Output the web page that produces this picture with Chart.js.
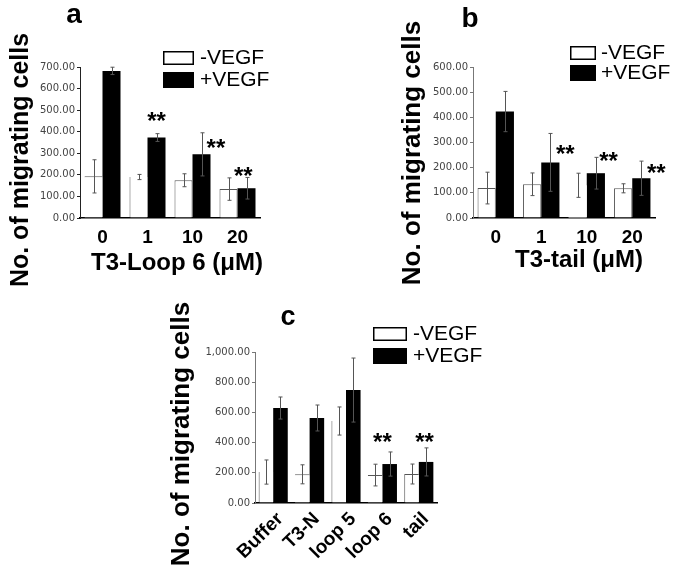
<!DOCTYPE html>
<html>
<head>
<meta charset="utf-8">
<script src="https://cdn.jsdelivr.net/npm/chart.js@4.4.1/dist/chart.umd.min.js"></script>
<style>
  body { margin: 0; background: #fff; }
  #wrap { position: relative; width: 683px; height: 568px; overflow: hidden; }
  canvas { position: absolute; }
</style>
</head>
<body>
<div id="wrap">
  <canvas id="chartA" width="340" height="290" style="left:0;top:0"></canvas>
  <canvas id="chartB" width="343" height="290" style="left:340px;top:0"></canvas>
  <canvas id="chartC" width="340" height="278" style="left:150px;top:290px"></canvas>
</div>
<script>
// panel a: T3-Loop 6
const catsA = ["0", "1", "10", "20"];
const minusA = [193, 190, 175, 134];
const minusErrA = [77, 12, 30, 52];
const plusA = [682, 373, 295, 138];
const plusErrA = [17, 18, 100, 50];
const starCatsA = [1.2, 2.52, 3.13];
const starLevelsA = [477, 352, 222];

// panel b: T3-tail
const catsB = ["0", "1", "10", "20"];
const minusB = [119, 134, 130, 118];
const minusErrB = [63, 45, 48, 18];
const plusB = [423, 221, 178, 158];
const plusErrB = [80, 115, 63, 68];
const starCatsB = [1.53, 2.48, 3.53];
const starLevelsB = [278, 250, 202];

// panel c: peptides
const catsC = ["Buffer", "T3-N", "loop 5", "loop 6", "tail"];
const minusC = [205, 190, 543, 185, 192];
const minusErrC = [80, 63, 93, 72, 66];
const plusC = [629, 563, 748, 258, 272];
const plusErrC = [73, 86, 212, 80, 93];
const starCatsC = [3.0, 4.16];
const starLevelsC = [444, 444];

const FONT = "'Liberation Sans', Arial, sans-serif";

// which outline edges of the white bars survived in the scan
const edge = (s) => ({
  left: s.includes("l") ? 1 : 0,
  top: s.includes("t") ? 1 : 0,
  right: s.includes("r") ? 1 : 0,
  bottom: 0,
});

const fmt = (v) =>
  v.toLocaleString("en-US", { minimumFractionDigits: 2, maximumFractionDigits: 2 });

const panels = [
  {
    id: "chartA", left: 0, top: 0, width: 340, height: 290,
    area: { left: 80, right: 260, top: 67, bottom: 218 },
    cats: catsA, minus: minusA, minusErr: minusErrA, plus: plusA, plusErr: plusErrA,
    starCats: starCatsA, starLevels: starLevelsA,
    yMax: 700, yStep: 100, yAxisColor: "#222",
    edges: [edge("t"), edge("l"), edge("ltr"), edge("ltr")],
    letter: { text: "a", x: 74, y: 23, size: 28 },
    yTitle: { x: 21, y: 160, size: 25 },
    xTitle: { text: "T3-Loop 6 (\u03bcM)", x: 177, y: 263, size: 24 },
    legend: { x: 163, y1: 51, y2: 72, w: 31, h: 14, textX: 200 },
    rotation: 0, tickPad: 8, labelOffset: 0,
  },
  {
    id: "chartB", left: 340, top: 0, width: 343, height: 290,
    area: { left: 473, right: 655, top: 67, bottom: 218 },
    cats: catsB, minus: minusB, minusErr: minusErrB, plus: plusB, plusErr: plusErrB,
    starCats: starCatsB, starLevels: starLevelsB,
    yMax: 600, yStep: 100, yAxisColor: "#777",
    edges: [edge("ltr"), edge("ltr"), edge(""), edge("ltr")],
    letter: { text: "b", x: 470, y: 27, size: 28 },
    yTitle: { x: 413, y: 153, size: 26 },
    xTitle: { text: "T3-tail (\u03bcM)", x: 579, y: 260, size: 24 },
    legend: { x: 570, y1: 46, y2: 65, w: 26, h: 14, textX: 601 },
    rotation: 0, tickPad: 8, labelOffset: 0,
  },
  {
    id: "chartC", left: 150, top: 290, width: 340, height: 278,
    area: { left: 255, right: 437, top: 352, bottom: 503 },
    cats: catsC, minus: minusC, minusErr: minusErrC, plus: plusC, plusErr: plusErrC,
    starCats: starCatsC, starLevels: starLevelsC,
    yMax: 1000, yStep: 200, yAxisColor: "#777",
    edges: [edge("l"), edge("t"), edge("l"), edge("t"), edge("lt")],
    letter: { text: "c", x: 288, y: 325, size: 27 },
    yTitle: { x: 182, y: 434, size: 26 },
    xTitle: null,
    legend: { x: 373, y1: 327, y2: 348, w: 34, h: 14, textX: 413 },
    rotation: 45, tickPad: 5, labelOffset: 7,
  },
];

function makeExtras(p) {
  return {
    id: "extras",
    afterDatasetsDraw(chart) {
      const ctx = chart.ctx;
      const ys = chart.scales.y;
      ctx.save();
      ctx.strokeStyle = "#555";
      ctx.lineWidth = 1;
      chart.data.datasets.forEach((ds, i) => {
        chart.getDatasetMeta(i).data.forEach((bar, j) => {
          const v = ds.data[j];
          const e = ds.errors[j];
          const x = Math.round(bar.x) + 0.5;
          const y1 = ys.getPixelForValue(v + e);
          const y2 = ys.getPixelForValue(Math.max(v - e, 0));
          ctx.beginPath();
          ctx.moveTo(x, y1);
          ctx.lineTo(x, y2);
          ctx.moveTo(x - 2, y1);
          ctx.lineTo(x + 2, y1);
          ctx.moveTo(x - 2, y2);
          ctx.lineTo(x + 2, y2);
          ctx.stroke();
        });
      });
      ctx.restore();
    },
    afterDraw(chart) {
      const ctx = chart.ctx;
      const xs = chart.scales.x;
      const ys = chart.scales.y;
      const ox = p.left, oy = p.top;
      ctx.save();
      ctx.fillStyle = "#000";

      // significance stars
      ctx.font = "bold 24px " + FONT;
      ctx.textAlign = "center";
      ctx.textBaseline = "alphabetic";
      p.starCats.forEach((c, k) => {
        const x = xs.getPixelForValue(c);
        const y = ys.getPixelForValue(p.starLevels[k]);
        ctx.fillText("**", x, y + 14);
      });

      // panel letter
      ctx.font = "bold " + p.letter.size + "px " + FONT;
      ctx.fillText(p.letter.text, p.letter.x - ox, p.letter.y - oy);

      // axis titles
      ctx.textBaseline = "middle";
      ctx.save();
      ctx.translate(p.yTitle.x - ox, p.yTitle.y - oy);
      ctx.rotate(-Math.PI / 2);
      ctx.font = "bold " + p.yTitle.size + "px " + FONT;
      ctx.fillText("No. of migrating cells", 0, 0);
      ctx.restore();
      if (p.xTitle) {
        ctx.font = "bold " + p.xTitle.size + "px " + FONT;
        ctx.fillText(p.xTitle.text, p.xTitle.x - ox, p.xTitle.y - oy);
      }

      // legend
      const lg = p.legend;
      ctx.lineWidth = 1.5;
      ctx.strokeStyle = "#000";
      ctx.fillStyle = "#fff";
      ctx.fillRect(lg.x - ox, lg.y1 - oy, lg.w, lg.h);
      ctx.strokeRect(lg.x - ox + 0.75, lg.y1 - oy + 0.75, lg.w - 1.5, lg.h - 1.5);
      ctx.fillStyle = "#000";
      ctx.fillRect(lg.x - ox, lg.y2 - oy, lg.w, lg.h + 2);
      ctx.font = "21px " + FONT;
      ctx.textAlign = "left";
      chart.data.datasets.forEach((ds, i) => {
        const yy = (i === 0 ? lg.y1 + lg.h / 2 : lg.y2 + lg.h / 2 + 1) - oy;
        ctx.fillText(ds.label, lg.textX - ox, yy);
      });
      ctx.restore();
    },
  };
}

panels.forEach((p) => {
  const ctx = document.getElementById(p.id).getContext("2d");
  new Chart(ctx, {
    type: "bar",
    data: {
      labels: p.cats,
      datasets: [
        {
          label: "-VEGF",
          data: p.minus,
          errors: p.minusErr,
          backgroundColor: "#fff",
          borderColor: "#555",
          borderWidth: (c) => p.edges[c.dataIndex],
        },
        {
          label: "+VEGF",
          data: p.plus,
          errors: p.plusErr,
          backgroundColor: "#000",
          borderWidth: 0,
        },
      ],
    },
    options: {
      responsive: false,
      animation: false,
      devicePixelRatio: 1,
      barPercentage: 1,
      categoryPercentage: 0.8,
      layout: {
        padding: {
          left: 0,
          bottom: 0,
          top: p.area.top - p.top,
          right: p.left + p.width - p.area.right,
        },
      },
      plugins: { legend: { display: false }, tooltip: { enabled: false } },
      scales: {
        x: {
          afterFit: (s) => { s.height = p.top + p.height - p.area.bottom; },
          grid: { display: false, drawTicks: false },
          border: { color: "#000", width: 1.5 },
          ticks: {
            autoSkip: false,
            color: "#000",
            padding: p.tickPad,
            labelOffset: p.labelOffset,
            minRotation: p.rotation,
            maxRotation: p.rotation,
            font: { family: FONT, size: 19, weight: "bold" },
          },
        },
        y: {
          min: 0,
          max: p.yMax,
          afterFit: (s) => { s.width = p.area.left - p.left; },
          grid: { drawOnChartArea: false, tickLength: 3, color: p.yAxisColor },
          border: { color: p.yAxisColor, width: 1 },
          ticks: {
            stepSize: p.yStep,
            autoSkip: false,
            padding: 2,
            color: "#444",
            font: { family: "'DejaVu Sans'", size: 10 },
            callback: (v) => fmt(v),
          },
        },
      },
    },
    plugins: [makeExtras(p)],
  });
});
</script>
</body>
</html>
